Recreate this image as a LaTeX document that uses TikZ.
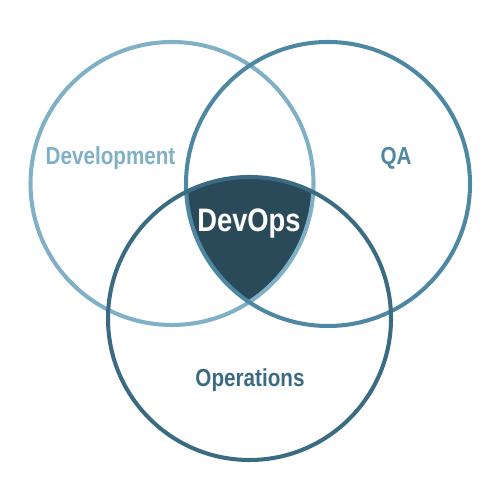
\documentclass[tikz,border=0pt]{standalone}
\usepackage{fontspec}
\setmainfont{Liberation Sans}[FakeStretch=0.84]
\usepackage{xcolor}
\usepackage{tikz}
\usetikzlibrary{positioning}
\definecolor{devblue}{HTML}{7FB0C6}
\definecolor{qablue}{HTML}{4D87A1}
\definecolor{opsblue}{HTML}{3B6B82}
\definecolor{coreblue}{HTML}{2B4A59}
\tikzstyle{ring} = [line width=2.3pt]
\tikzstyle{label} = [font=\bfseries\fontsize{14}{16}\selectfont]

\begin{document}
\begin{tikzpicture}
              \useasboundingbox (0,0) rectangle (10,10);

              % the three sets
              \coordinate (dev) at (3.44,6.33);
              \coordinate (qa) at (6.56,6.32);
              \coordinate (ops) at (4.99,3.63);

              % common part
              \begin{scope}
                  \clip (dev) circle (2.83);
                  \clip (qa) circle (2.84);
                  \fill[coreblue] (ops) circle (2.83);
              \end{scope}

              \draw[ring, devblue] (dev) circle (2.83);
              \draw[ring, qablue] (qa) circle (2.84);
              \draw[ring, opsblue] (ops) circle (2.83);

              \node[label, text=devblue] (dev-text) at (2.21,6.83) {Development};
              \node[label, text=qablue] (qa-text) at (7.92,6.83) {QA};
              \node[label, text=opsblue] (ops-text) at (5.0,2.39) {Operations};
              \node[font=\bfseries\fontsize{18.5}{20}\selectfont, text=white] (core-text) at (4.98,5.52) {DevOps};

          \end{tikzpicture}
\end{document}
